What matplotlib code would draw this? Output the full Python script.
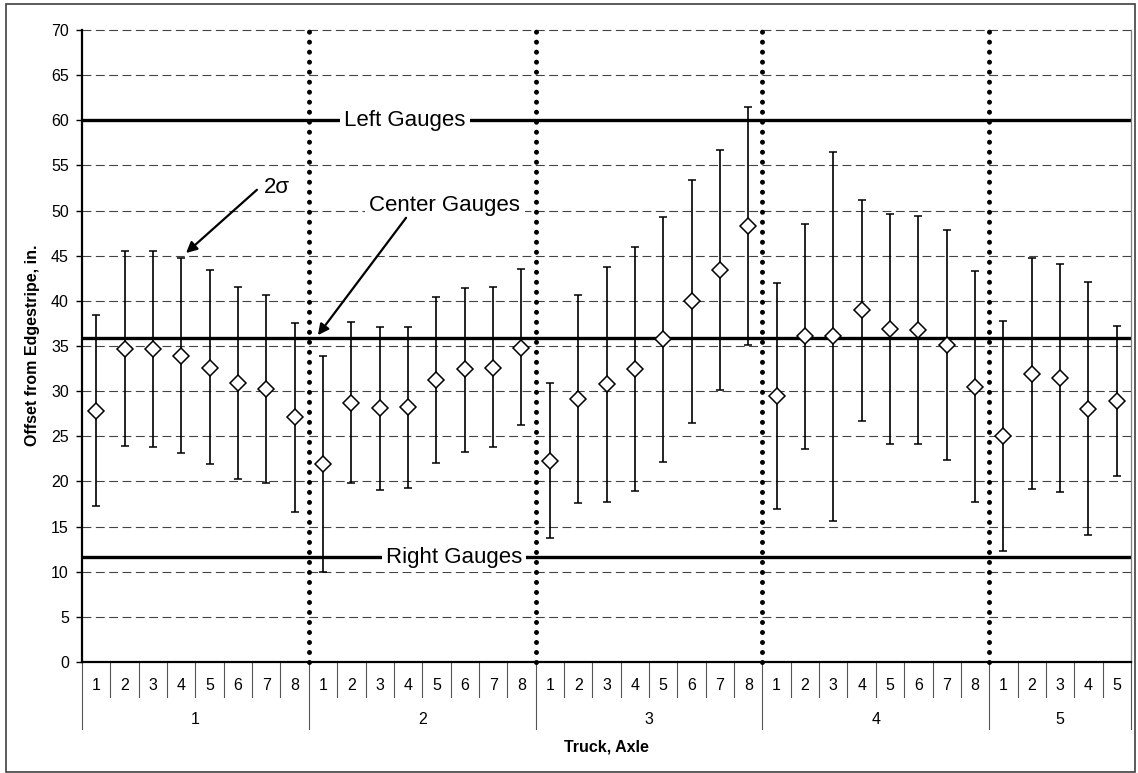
import matplotlib
matplotlib.use('Agg')
import matplotlib.pyplot as plt
from matplotlib.patches import Rectangle
import numpy as np

plt.rcParams['font.family'] = ['Liberation Sans', 'DejaVu Sans']

# trucks and number of axles per truck
trucks = [1, 2, 3, 4, 5]
axles_per_truck = [8, 8, 8, 8, 5]

# mean lateral offset and the +/- 2 sigma limits per axle
mean_offset = [27.8, 34.7, 34.7, 33.9, 32.6, 30.9, 30.2, 27.1,
               21.9, 28.7, 28.1, 28.2, 31.2, 32.4, 32.6, 34.8,
               22.3, 29.1, 30.8, 32.5, 35.8, 40.0, 43.4, 48.3,
               29.5, 36.1, 36.1, 39.0, 36.9, 36.8, 35.1, 30.5,
               25.0, 31.9, 31.5, 28.0, 28.9]
upper_2s = [38.4, 45.5, 45.5, 44.7, 43.4, 41.5, 40.7, 37.6,
            33.9, 37.7, 37.1, 37.1, 40.4, 41.4, 41.5, 43.5,
            30.9, 40.7, 43.8, 46.0, 49.3, 53.4, 56.7, 61.5,
            42.0, 48.5, 56.5, 51.2, 49.6, 49.4, 47.8, 43.3,
            37.8, 44.7, 44.1, 42.1, 37.2]
lower_2s = [17.3, 23.9, 23.8, 23.2, 21.9, 20.3, 19.8, 16.6,
            10.0, 19.8, 19.1, 19.3, 22.0, 23.3, 23.8, 26.2,
            13.7, 17.6, 17.7, 18.9, 22.2, 26.5, 30.1, 35.1,
            17.0, 23.6, 15.6, 26.7, 24.2, 24.2, 22.4, 17.7,
            12.3, 19.2, 18.8, 14.1, 20.6]

# gauge line positions
left_gauges = 60.0
center_gauges = 35.9
right_gauges = 11.6

n = sum(axles_per_truck)
x = np.arange(n) + 0.5
mean = np.array(mean_offset)
yerr = [mean - np.array(lower_2s), np.array(upper_2s) - mean]
bounds = np.concatenate([[0], np.cumsum(axles_per_truck)])

fig = plt.figure(figsize=(11.38, 7.73), dpi=100)
ax = fig.add_axes([82 / 1138, 1 - 662 / 773, (1131 - 82) / 1138, (662 - 30) / 773])

# outer chart border
fig.patches.append(Rectangle((6 / 1138, 1 - 772 / 773), 1129 / 1138, 768 / 773,
                             transform=fig.transFigure, fill=False,
                             edgecolor='#404040', linewidth=1.2))

ax.set_xlim(0, n)
ax.set_ylim(0, 70)
ax.set_yticks(np.arange(0, 71, 5))
for yv in np.arange(5, 71, 5):
    ax.axhline(yv, color='#444444', linewidth=0.8, linestyle=(0, (8, 4)), zorder=1,
               clip_on=False)

# gauge lines
for yv in (left_gauges, center_gauges, right_gauges):
    ax.axhline(yv, color='black', linewidth=2.4, zorder=2)

# truck separators
for b in bounds[1:-1]:
    ax.plot([b, b], [0, 70], color='black', linewidth=3.6,
            linestyle=(0, (0.001, 2)), dash_capstyle='round', zorder=6,
            clip_on=False)

ax.errorbar(x, mean, yerr=yerr, fmt='D', markerfacecolor='white',
            markeredgecolor='black', markersize=8, markeredgewidth=1.1,
            ecolor='black', elinewidth=1.2, capsize=3, capthick=1.2, zorder=5)

# spines
ax.spines['top'].set_visible(False)
ax.spines['left'].set_linewidth(1.6)
ax.spines['bottom'].set_linewidth(1.6)
ax.spines['right'].set_color('#808080')
ax.spines['right'].set_linewidth(0.9)

ax.tick_params(axis='y', labelsize=11.5, length=4, width=1, pad=5.5)
ax.set_xticks([])

# two-level category axis
trans = ax.get_xaxis_transform()
px = 1.0 / 632  # one pixel in axes-y units
for t, (start, cnt) in enumerate(zip(bounds[:-1], axles_per_truck)):
    for j in range(cnt):
        ax.text(start + j + 0.5, -24 * px, str(j + 1), transform=trans,
                ha='center', va='center', fontsize=11.5)
        if j > 0:
            ax.plot([start + j, start + j], [0, -35 * px], transform=trans,
                    color='#555555', linewidth=0.8, clip_on=False)
    ax.text(start + cnt / 2, -57 * px, str(trucks[t]), transform=trans,
            ha='center', va='center', fontsize=11.5)
for b in bounds:
    ax.plot([b, b], [0, -67 * px], transform=trans, color='#555555',
            linewidth=0.8, clip_on=False)

ax.text(n / 2, -85 * px, 'Truck, Axle', transform=trans, ha='center',
        va='center', fontsize=11.5, fontweight='bold')
fig.text(33 / 1138, 1 - 345 / 773, 'Offset from Edgestripe, in.', rotation=90,
         ha='center', va='center', fontsize=11.5, fontweight='bold')

# gauge labels
box = dict(facecolor='white', edgecolor='none', pad=3)
ax.text(11.39, left_gauges, 'Left Gauges', ha='center', va='center',
        fontsize=16, bbox=box, zorder=4)
ax.text(13.12, right_gauges, 'Right Gauges', ha='center', va='center',
        fontsize=16, bbox=box, zorder=4)
ax.text(12.8, 50.6, 'Center Gauges', ha='center', va='center',
        fontsize=16, bbox=box, zorder=4)
ax.text(6.88, 52.6, '2σ', ha='center', va='center', fontsize=16, zorder=4)

arrow = dict(arrowstyle='-|>', color='black', linewidth=1.6, mutation_scale=16,
             shrinkA=0, shrinkB=0)
ax.annotate('', xy=(3.67, 45.3), xytext=(6.17, 52.3), arrowprops=arrow, zorder=7)
ax.annotate('', xy=(8.32, 36.2), xytext=(11.43, 49.2), arrowprops=arrow, zorder=7)

fig.savefig('out.png', dpi=100)
